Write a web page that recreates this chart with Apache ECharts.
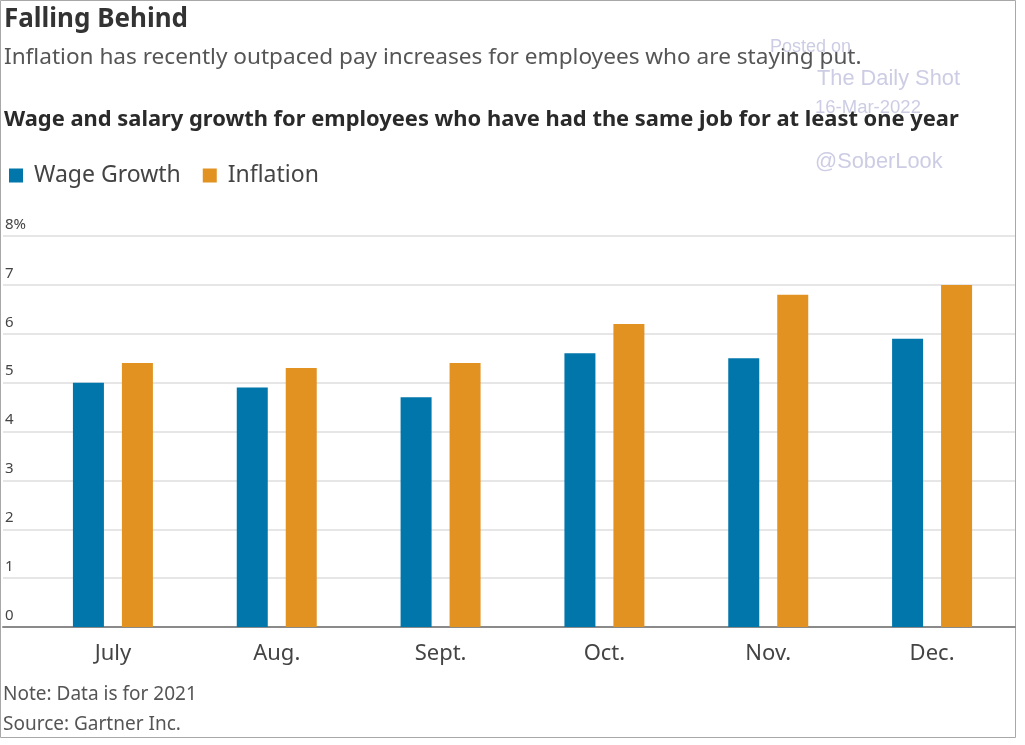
<!DOCTYPE html>
<html>
<head>
<meta charset="utf-8">
<script src="https://cdn.jsdelivr.net/npm/echarts@6/dist/echarts.min.js"></script>
<style>
html,body{margin:0;padding:0;background:#fff;}
#main{width:1025px;height:745px;}
</style>
</head>
<body>
<div id="main"></div>
<script>
var categories = ['July', 'Aug.', 'Sept.', 'Oct.', 'Nov.', 'Dec.'];
var wageGrowth = [5.0, 4.9, 4.7, 5.6, 5.5, 5.9];
var inflation = [5.4, 5.3, 5.4, 6.2, 6.8, 7.0];
var yTickLabels = ['0', '1', '2', '3', '4', '5', '6', '7', '8%'];
var seriesNames = ['Wage Growth', 'Inflation'];

var FONT = '"Noto Sans", sans-serif';
var WM = '"Liberation Sans", sans-serif';
var WMC = 'rgba(170,170,210,0.6)';
var chart = echarts.init(document.getElementById('main'));
var option = {
  animation: false,
  backgroundColor: '#fff',
  textStyle: { fontFamily: FONT },
  color: ['#0076ab', '#e29220'],
  legend: {
    left: 4, top: 159,
    itemWidth: 14, itemHeight: 14, itemGap: 22,
    icon: 'rect',
    textStyle: { fontSize: 23, color: '#444', fontFamily: FONT, padding: [0, 0, 0, 6] },
    data: seriesNames
  },
  grid: [
    { left: 3, right: 10, top: 236, bottom: 118 },
    { left: 31, right: 11, top: 236, bottom: 118 }
  ],
  xAxis: [
    { type: 'value', gridIndex: 0, min: 0, max: 1, show: true,
      axisLine: { show: true, lineStyle: { color: '#8a8a8a', width: 2 } },
      axisTick: { show: false }, axisLabel: { show: false }, splitLine: { show: false } },
    { type: 'category', gridIndex: 1, data: categories,
      axisLine: { show: false }, axisTick: { show: false },
      axisLabel: { fontSize: 22, color: '#444', margin: 16, fontFamily: FONT } }
  ],
  yAxis: [
    { type: 'value', gridIndex: 0, min: 0, max: 8, interval: 1,
      axisLine: { show: false }, axisTick: { show: false },
      splitLine: { lineStyle: { color: '#e6e6e6', width: 2 } },
      axisLabel: { inside: true, margin: 2, verticalAlign: 'bottom', align: 'left',
        fontSize: 15, color: '#444', padding: [0, 0, 4, 0], fontFamily: FONT,
        formatter: function (v) { return yTickLabels[Math.round(v)]; } } },
    { type: 'value', gridIndex: 1, min: 0, max: 8, interval: 1, show: false,
      splitLine: { show: false } }
  ],
  series: [
    { name: seriesNames[0], type: 'bar', xAxisIndex: 1, yAxisIndex: 1,
      data: wageGrowth, barWidth: 31, barGap: '58%' },
    { name: seriesNames[1], type: 'bar', xAxisIndex: 1, yAxisIndex: 1,
      data: inflation, barWidth: 31, barGap: '58%' }
  ],
  graphic: [
    { type: 'rect', shape: { x: 0.5, y: 0.5, width: 1015, height: 737 },
      style: { fill: 'none', stroke: '#a8a8a8', lineWidth: 1 }, silent: true },
    { type: 'text', left: 4, top: 7, style: { text: 'Falling Behind', font: 'bold 26px ' + FONT, fill: '#333' } },
    { type: 'text', left: 4, top: 46, style: { text: 'Inflation has recently outpaced pay increases for employees who are staying put.', font: '22.6px ' + FONT, fill: '#555' } },
    { type: 'text', left: 4, top: 109, style: { text: 'Wage and salary growth for employees who have had the same job for at least one year', font: 'bold 21.9px ' + FONT, fill: '#2a2a2a' } },
    { type: 'text', left: 3, top: 685, style: { text: 'Note: Data is for 2021', font: '19px ' + FONT, fill: '#555' } },
    { type: 'text', left: 3, top: 715, style: { text: 'Source: Gartner Inc.', font: '19px ' + FONT, fill: '#555' } },
    { type: 'text', left: 770, top: 38, z: 100, style: { text: 'Posted on', font: '18px ' + WM, fill: WMC } },
    { type: 'text', left: 817, top: 68, z: 100, style: { text: 'The Daily Shot', font: '21.8px ' + WM, fill: WMC } },
    { type: 'text', left: 815, top: 98, z: 100, style: { text: '16-Mar-2022', font: '18.5px ' + WM, fill: WMC } },
    { type: 'text', left: 815, top: 151, z: 100, style: { text: '@SoberLook', font: '21.8px ' + WM, fill: WMC } }
  ]
};
chart.setOption(option);
</script>
</body>
</html>
